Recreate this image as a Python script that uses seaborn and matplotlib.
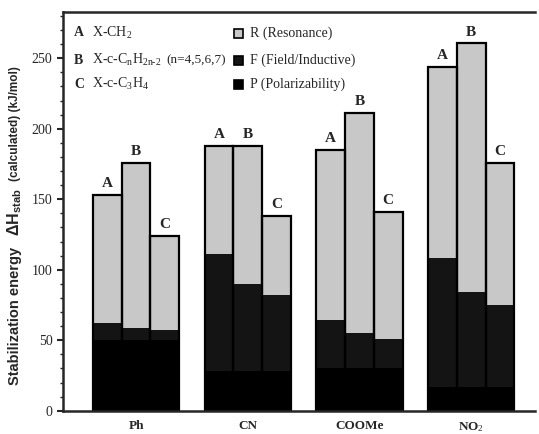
import numpy as np
import pandas as pd
import seaborn as sns
import matplotlib
matplotlib.use("Agg")
import matplotlib.pyplot as plt
from matplotlib.patches import Rectangle
from matplotlib.ticker import MultipleLocator

# ---------------- data ----------------
substituents = ["Ph", "CN", "COOMe", "NO$_2$"]
variants = ["A", "B", "C"]
# one value per bar, ordered Ph(A,B,C), CN(A,B,C), COOMe(A,B,C), NO2(A,B,C)
polarizability = [50, 50, 50, 28, 28, 28, 30, 30, 30, 17, 17, 17]
field = [12.5, 8.5, 7.5, 83.5, 62, 54, 34, 25, 21, 91, 67.5, 58]
resonance = [90.5, 117.5, 66.5, 76, 97.5, 56, 121, 156, 90, 136, 176, 101]
yticks = [0, 50, 100, 150, 200, 250]

df = pd.DataFrame({
    "substituent": np.repeat(substituents, 3),
    "variant": variants * 4,
    "P": polarizability,
    "F": field,
    "R": resonance,
})
df["PF"] = df["P"] + df["F"]
df["total"] = df["PF"] + df["R"]

# ---------------- style ----------------
sns.set_style("ticks")
plt.rcParams["font.family"] = ["Liberation Serif", "DejaVu Serif"]
plt.rcParams["mathtext.fontset"] = "custom"
plt.rcParams["mathtext.rm"] = "Liberation Serif"
plt.rcParams["mathtext.it"] = "Liberation Serif:italic"
plt.rcParams["mathtext.bf"] = "Liberation Serif:bold"
plt.rcParams["mathtext.sf"] = "Liberation Sans:bold"

R_col = "#c8c8c8"
F_col = "#141414"
P_col = "#000000"

W, H = 539, 434
fig = plt.figure(figsize=(W / 100, H / 100), dpi=100)
ax_l, ax_r, ax_t, ax_b = 63, 535, 12, 410.7
ax = fig.add_axes([ax_l / W, (H - ax_b) / H, (ax_r - ax_l) / W, (ax_b - ax_t) / H])

common = dict(data=df, x="substituent", hue="variant", order=substituents,
              hue_order=variants, width=0.77, gap=0, errorbar=None,
              legend=False, ax=ax)
sns.barplot(y="total", palette=[R_col] * 3, linewidth=0, **common)
sns.barplot(y="PF", palette=[F_col] * 3, linewidth=0, **common)
sns.barplot(y="P", palette=[P_col] * 3, linewidth=0, **common)
# outlines of the full bars on top
sns.barplot(y="total", palette=["black"] * 3, fill=False, linewidth=1.6, **common)

# A/B/C letters above the total bars
for cont, lab in zip(ax.containers[:3], variants):
    for bar in cont:
        ax.text(bar.get_x() + bar.get_width() / 2, bar.get_height() + 3.5, lab,
                ha="center", va="bottom", fontsize=11, fontweight="bold",
                family="Liberation Serif")

ax.set_ylim(0, 282.8)
ax.set_xlim(-0.653, 3.57)
ax.set_yticks(yticks)
ax.yaxis.set_minor_locator(MultipleLocator(10))
ax.tick_params(axis="y", which="major", direction="out", length=4.5, width=1.5,
               pad=3, labelsize=10)
ax.tick_params(axis="y", which="minor", direction="out", length=2.2, width=1)
ax.tick_params(axis="x", length=0, pad=7, labelsize=9.5)
for t in ax.get_xticklabels():
    t.set_fontweight("bold")
ax.set_xlabel("")
ax.set_ylabel("")
for s in ["left", "bottom", "top"]:
    ax.spines[s].set_linewidth(1.8)
ax.spines["right"].set_visible(False)


def axx(px):
    return (px - ax_l) / (ax_r - ax_l)


def axy(py):
    return (ax_b - py) / (ax_b - ax_t)


# left legend block (A/B/C descriptions)
rows_y = [33, 60, 84]
descs = ["X-CH$_2$", r"X-c-C$_\mathrm{n}$H$_{\mathrm{2n\text{-}2}}$", "X-c-C$_3$H$_4$"]
for yy, lab, d in zip(rows_y, variants, descs):
    ax.text(axx(74), axy(yy), lab, transform=ax.transAxes, ha="left", va="center",
            fontsize=10, fontweight="bold")
    ax.text(axx(92), axy(yy), d, transform=ax.transAxes, ha="left", va="center",
            fontsize=10)
ax.text(axx(166), axy(rows_y[1]), "(n=4,5,6,7)", transform=ax.transAxes,
        ha="left", va="center", fontsize=9.5)

# right legend block (R/F/P)
leg_labels = ["R (Resonance)", "F (Field/Inductive)", "P (Polarizability)"]
leg_cols = [R_col, F_col, P_col]
sq = 9
for yy, lab, c in zip(rows_y, leg_labels, leg_cols):
    ax.add_patch(Rectangle((axx(234), axy(yy + sq / 2)),
                           sq / (ax_r - ax_l), sq / (ax_b - ax_t),
                           transform=ax.transAxes, facecolor=c,
                           edgecolor="black", linewidth=1.2, clip_on=False))
    ax.text(axx(250), axy(yy), lab, transform=ax.transAxes, ha="left",
            va="center", fontsize=10)

# y label pieces
fig.text(15 / W, 1 - 316 / H, "Stabilization energy", rotation=90, ha="center",
         va="center", fontsize=10.5, fontweight="bold", family="Liberation Sans")
fig.text(15 / W, 1 - 212 / H, r"ΔH$_\mathsf{stab}$", rotation=90, ha="center",
         va="center", fontsize=11.5, fontweight="bold", family="Liberation Sans")
fig.text(15 / W, 1 - 124 / H, "(calculated) (kJ/mol)", rotation=90, ha="center",
         va="center", fontsize=8.5, fontweight="bold", family="Liberation Sans")

fig.savefig("out.png", dpi=100)
